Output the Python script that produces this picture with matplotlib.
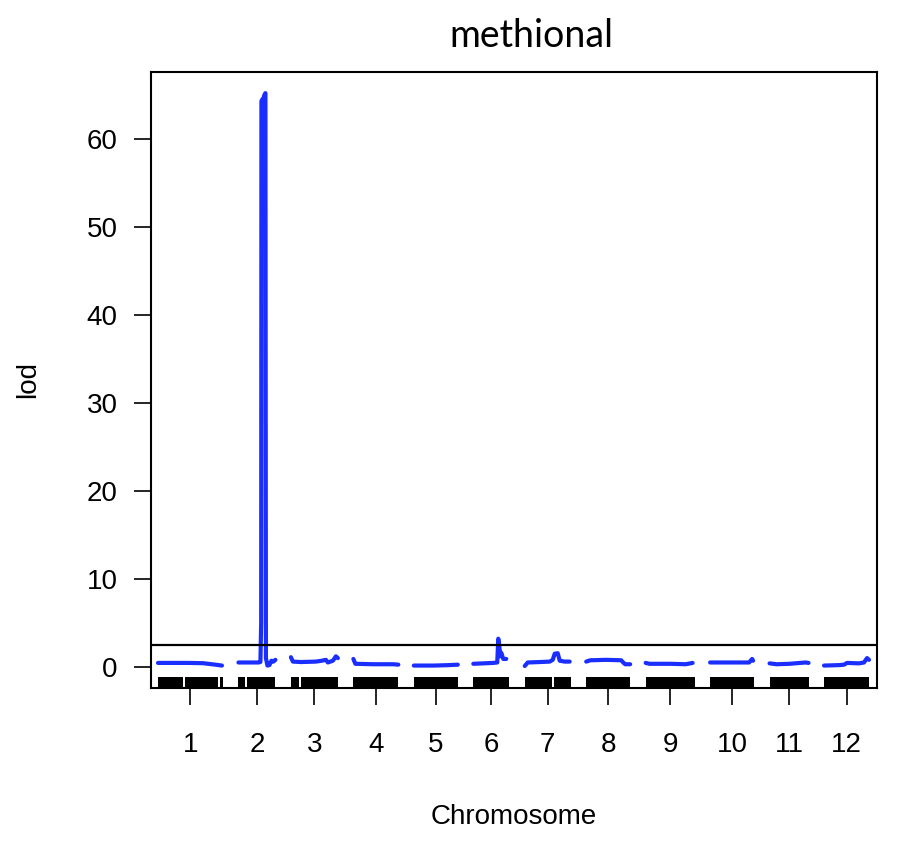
import numpy as np
import matplotlib
matplotlib.use("Agg")
import matplotlib.pyplot as plt

plt.rcParams['font.family'] = ['Liberation Sans', 'DejaVu Sans']

# chromosome lengths (cM) and gap between chromosomes on the plot
chroms = ['1', '2', '3', '4', '5', '6', '7', '8', '9', '10', '11', '12']
chr_len = [130, 74, 94, 90, 88, 72, 92, 88, 98, 88, 78, 90]
gap = 31

# lod profile per chromosome: positions (cM) and lod values
pos = [
    [0, 20, 60, 90, 100, 115, 128],
    [0, 20, 40, 44, 45.5, 46, 48, 50, 52, 54, 55, 58, 62, 66, 70, 74],
    [0, 4, 20, 50, 62, 70, 74, 84, 90, 94],
    [0, 4, 40, 80, 90],
    [0, 40, 70, 88],
    [0, 20, 40, 48, 50, 52, 54, 56, 60, 66],
    [0, 6, 30, 50, 56, 60, 66, 70, 80, 90],
    [0, 8, 40, 70, 74, 78, 88],
    [0, 8, 50, 80, 94],
    [0, 40, 78, 84, 86],
    [0, 14, 40, 72, 78],
    [0, 30, 40, 46, 70, 80, 86, 90],
]
lod = [
    [0.45, 0.45, 0.45, 0.42, 0.35, 0.25, 0.15],
    [0.5, 0.5, 0.5, 0.55, 5.0, 64.3, 64.5, 64.6, 65.0, 65.2, 1.0, 0.15, 0.2, 0.7, 0.6, 0.8],
    [1.1, 0.6, 0.55, 0.6, 0.7, 0.8, 0.5, 0.7, 1.2, 1.0],
    [0.9, 0.35, 0.3, 0.3, 0.25],
    [0.15, 0.15, 0.2, 0.25],
    [0.35, 0.4, 0.45, 0.5, 3.2, 2.4, 1.2, 1.6, 0.9, 0.9],
    [0.1, 0.5, 0.55, 0.6, 0.8, 1.5, 1.55, 0.7, 0.6, 0.6],
    [0.6, 0.75, 0.8, 0.75, 0.5, 0.3, 0.3],
    [0.45, 0.35, 0.35, 0.3, 0.45],
    [0.5, 0.5, 0.5, 0.9, 0.7],
    [0.4, 0.3, 0.35, 0.5, 0.45],
    [0.15, 0.2, 0.25, 0.45, 0.4, 0.5, 1.0, 0.8],
]

# marker coverage (rug) per chromosome, cM intervals
rug = [
    [(0, 50), (54, 120), (124, 130)],
    [(0, 14), (18, 74)],
    [(0, 16), (20, 94)],
    [(0, 90)], [(0, 88)], [(0, 72)],
    [(0, 54), (58, 92)],
    [(0, 88)], [(0, 98)], [(0, 88)], [(0, 78)], [(0, 90)],
]

threshold = 2.5

fig = plt.figure(figsize=(9.04, 8.46), dpi=100)
ax = fig.add_axes([151/904, 1 - 688/846, 726/904, 616/846])

blue = '#1a2eff'
starts = np.concatenate([[0], np.cumsum(np.array(chr_len) + gap)[:-1]])
mids = starts + np.array(chr_len) / 2

for i in range(len(chroms)):
    x = starts[i] + np.array(pos[i])
    ax.plot(x, lod[i], color=blue, lw=3, solid_capstyle='round', solid_joinstyle='round')
    segs = [(starts[i] + a, b - a) for a, b in rug[i]]
    ax.broken_barh(segs, (-2.4, 1.25), facecolors='black', edgecolor='none')

ax.axhline(threshold, color='black', lw=1.6)

ax.set_xlim(-14, starts[-1] + chr_len[-1] + 16)
ax.set_ylim(-2.4, 67.6)
ax.set_xticks(mids)
ax.set_xticklabels(chroms)
ax.set_yticks(np.arange(0, 61, 10))
ax.tick_params(axis='both', length=12, width=1.2, labelsize=20, direction='out')
ax.tick_params(axis='x', pad=20)
ax.tick_params(axis='y', pad=12)
for s in ax.spines.values():
    s.set_linewidth(1.5)

ax.set_xlabel('Chromosome', fontsize=20, labelpad=33)
ax.set_ylabel('lod', fontsize=20, labelpad=33)
fig.text(531/904, 1 - 36/846, 'methional', fontsize=27, family=['Lato', 'DejaVu Sans'],
         ha='center', va='center')

fig.savefig('out.png', dpi=100)
